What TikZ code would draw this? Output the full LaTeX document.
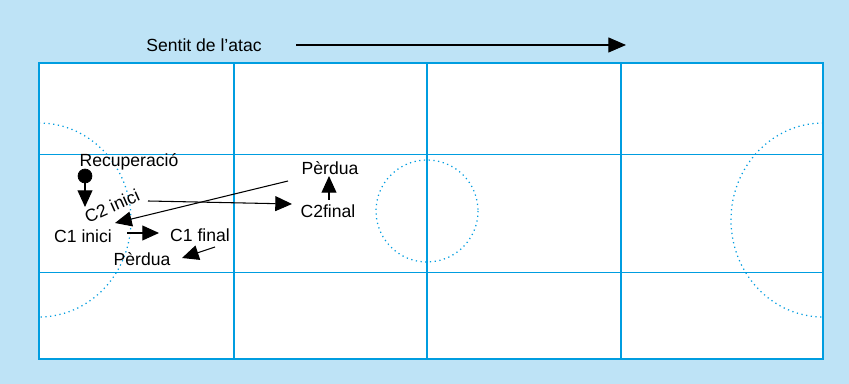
\documentclass[tikz,border=0pt]{standalone}
\usepackage{fontspec}
\setmainfont{Liberation Sans}
\usetikzlibrary{arrows.meta}
\pgfdeclarelayer{bglayer}
\pgfdeclarelayer{edgelayer}
\pgfdeclarelayer{nodelayer}
\pgfsetlayers{bglayer,edgelayer,nodelayer,main}
\definecolor{pista}{RGB}{0,157,224}
\definecolor{fons}{RGB}{190,227,246}
\tikzset{font=\fontsize{10}{12}\selectfont}
\tikzstyle{none}=[inner sep=0pt]
\tikzstyle{txt}=[inner sep=0pt]
\tikzstyle{pilota}=[circle,fill=black,draw,inner sep=2.8pt]
\tikzstyle{linia}=[draw=pista,line width=0.9pt]
\tikzstyle{area}=[draw=pista,line width=0.7pt,dotted]
\tikzstyle{fletxa}=[line width=0.6pt,-{Triangle[length=9.5pt,width=8.5pt]}]

\begin{document}
\begin{tikzpicture}[x=0.02cm,y=-0.02cm]
	\begin{pgfonlayer}{bglayer}
		\fill[fons] (0,0) rectangle (849,384);
	\end{pgfonlayer}
	\useasboundingbox (0,0) rectangle (849,384);
	\begin{pgfonlayer}{edgelayer}
		\draw[linia,fill=white] (39,63) rectangle (823,359);
		\foreach \x in {234,427,621}
			\draw[linia] (\x,63) -- (\x,359);
		\foreach \y in {154.5,272.5}
			\draw[linia] (39,\y) -- (823,\y);
		\draw[area] (427,211) circle (51);
		\draw[area] (39,123) arc[start angle=-90, end angle=90, x radius=92, y radius=97];
		\draw[area] (823,123) arc[start angle=-90, end angle=-270, x radius=92, y radius=97];
	\end{pgfonlayer}
	\begin{pgfonlayer}{nodelayer}
		\node [style=txt] (0) at (204, 45) {Sentit de l’atac};
		\coordinate (1) at (296, 45);
		\coordinate (2) at (626, 45);
		\node [style=txt] (3) at (129, 162) {Recuperació};
		\node [style=pilota] (4) at (85, 176) {};
		\coordinate (5) at (85, 207);
		\node [style=txt, rotate=24] (6) at (112, 206) {C2 inici};
		\node [style=txt] (7) at (83, 236) {C1 inici};
		\node [style=txt] (8) at (200, 235) {C1 final};
		\node [style=txt] (9) at (142, 259) {Pèrdua};
		\node [style=txt] (10) at (328, 211) {C2final};
		\node [style=txt] (11) at (330, 168) {Pèrdua};
		\coordinate (12) at (148, 201);
		\coordinate (13) at (292, 204);
		\coordinate (14) at (329, 200);
		\coordinate (15) at (329, 176);
		\coordinate (16) at (288, 181);
		\coordinate (17) at (115, 223);
		\coordinate (18) at (127, 233);
		\coordinate (19) at (159, 233);
		\coordinate (20) at (215, 247);
		\coordinate (21) at (182, 258);
	\end{pgfonlayer}
	\draw[line width=0.6pt, -{Triangle[length=10pt,width=8.5pt]}] (1) to (2);
	\draw[style=fletxa] (4.center) to (5);
	\draw[style=fletxa] (12) to (13);
	\draw[style=fletxa] (14) to (15);
	\draw[style=fletxa] (16) to (17);
	\draw[style=fletxa] (18) to (19);
	\draw[style=fletxa] (20) to (21);
\end{tikzpicture}
\end{document}
